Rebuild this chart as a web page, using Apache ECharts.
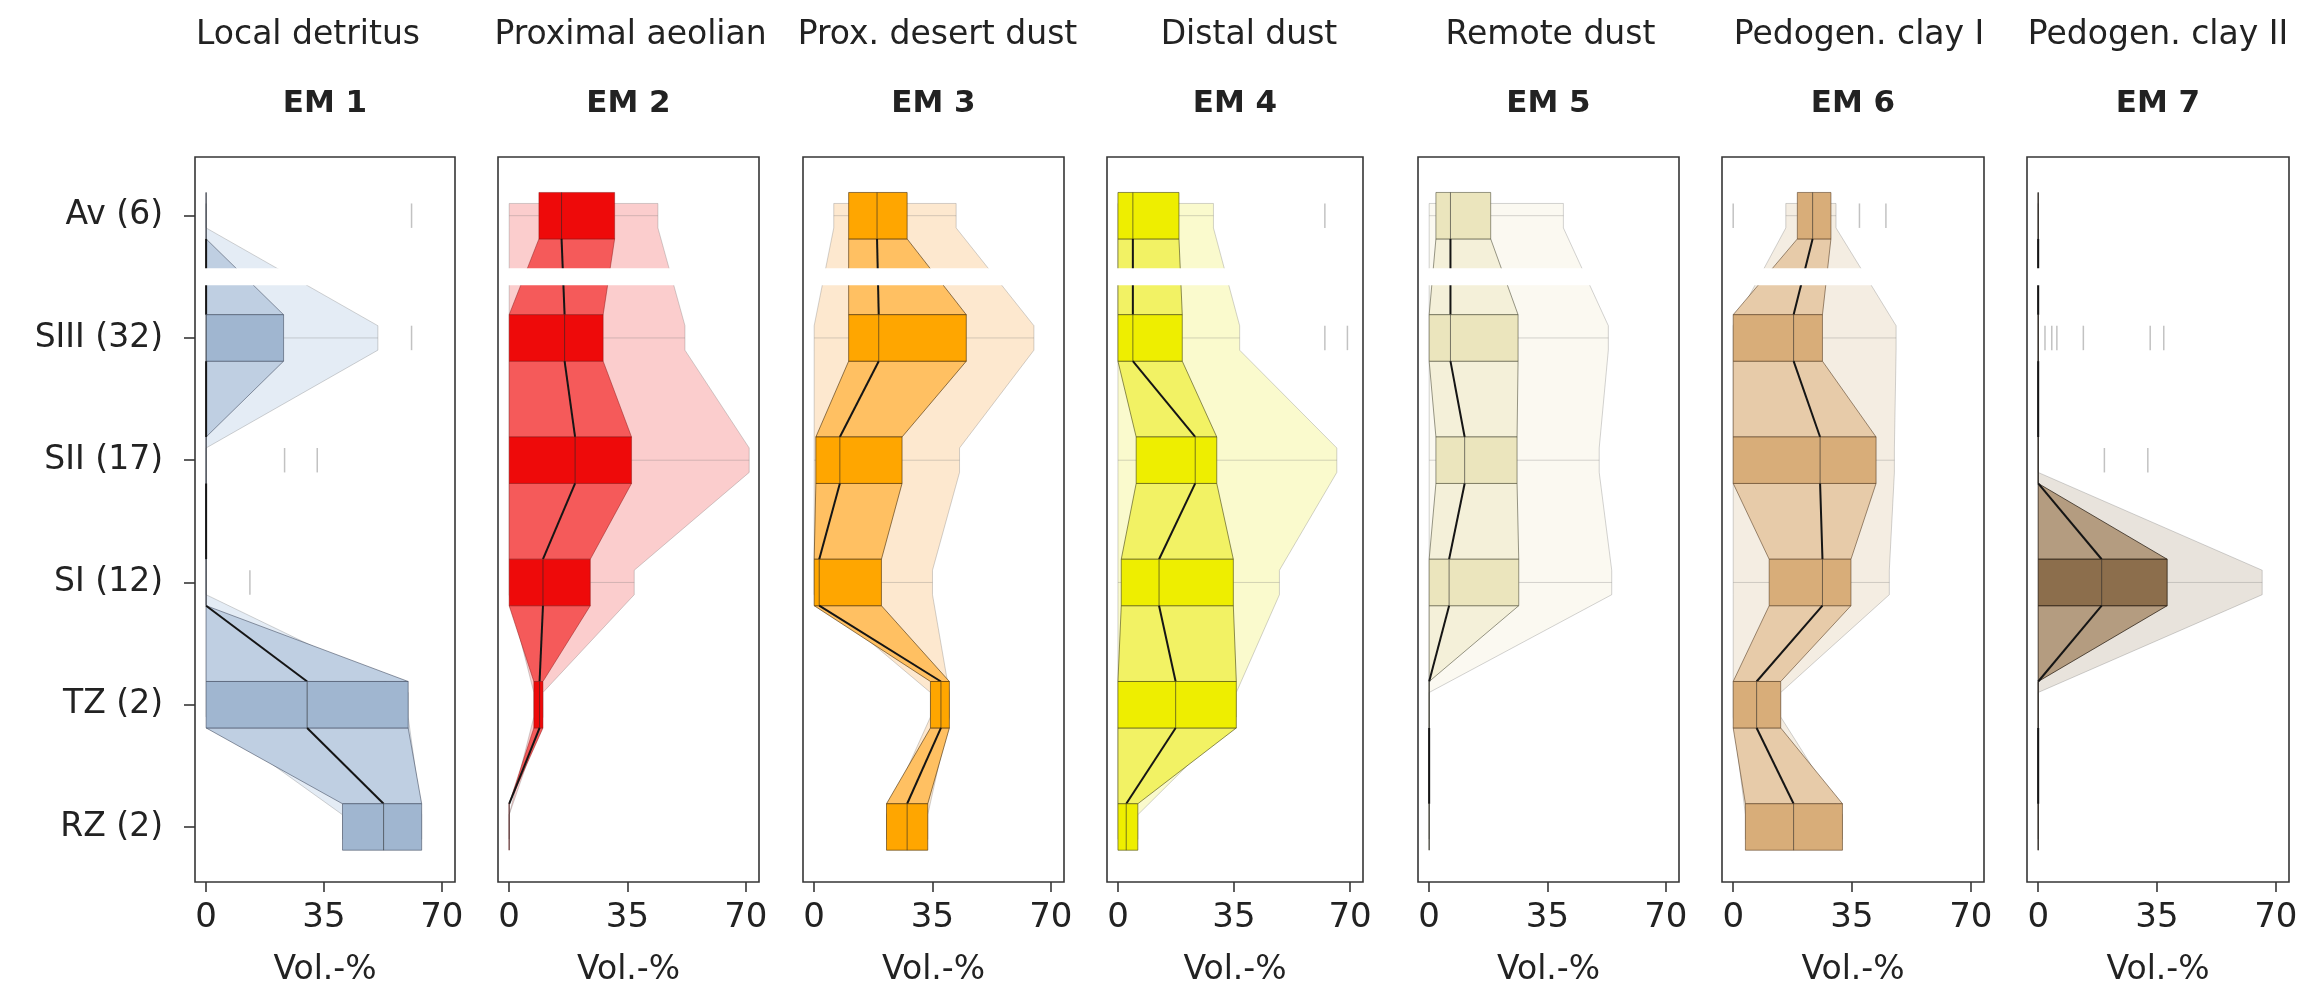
<!DOCTYPE html>
<html>
<head>
<meta charset="utf-8">
<title>End-member loadings by stratigraphic unit</title>
<script src="https://cdn.jsdelivr.net/npm/echarts@6/dist/echarts.min.js"></script>
<style>
  html, body { margin: 0; padding: 0; background: #fff; }
  #chart { width: 2306px; height: 992px; }
</style>
</head>
<body>
<div id="chart"></div>
<script>
// Stratigraphic groups (sample count in brackets), top to bottom
const groups = ['Av (6)', 'SIII (32)', 'SII (17)', 'SI (12)', 'TZ (2)', 'RZ (2)'];
const sources = ['Local detritus', 'Proximal aeolian', 'Prox. desert dust', 'Distal dust',
                 'Remote dust', 'Pedogen. clay I', 'Pedogen. clay II'];
const members = ['EM 1', 'EM 2', 'EM 3', 'EM 4', 'EM 5', 'EM 6', 'EM 7'];
const xTicks = [0, 35, 70];

// Per group: [whisker low, q1, median, q3, whisker high] in Vol.-%
const em1Stats = [[0, 0, 0, 0, 0], [0, 0, 0, 23, 51], [0, 0, 0, 0, 0], [0, 0, 0, 0, 0], [0, 0, 30, 60, 60], [40.5, 40.5, 52.7, 64, 64]];
const em2Stats = [[0, 8.8, 15.5, 31.2, 44], [0, 0, 16.4, 27.8, 52], [0, 0, 19.5, 36.2, 71], [0, 0, 10, 24, 37], [7.3, 7.3, 9, 10, 10], [0, 0, 0, 0, 0]];
const em3Stats = [[5.8, 10.2, 18.6, 27.5, 42], [0, 10.2, 19.1, 45, 65], [0, 0.5, 7.6, 26, 43], [0, 0, 1.5, 19.9, 35], [34.4, 34.4, 37.5, 40, 40], [21.4, 21.4, 27.5, 33.6, 33.6]];
const em4Stats = [[0, 0, 4.5, 18.4, 28.8], [0, 0, 4.5, 19.4, 36.7], [0, 5.5, 23.3, 29.8, 66], [0, 1, 12.4, 34.8, 48.7], [0, 0, 17.4, 35.7, 35.7], [0, 0, 2.5, 6, 6]];
const em5Stats = [[0, 2, 6.3, 18.2, 39.7], [0, 0, 6.3, 26.3, 53], [0, 2, 10.5, 26, 50.3], [0, 0, 5.9, 26.5, 54], [0, 0, 0, 0, 0], [0, 0, 0, 0, 0]];
const em6Stats = [[15.5, 18.9, 23.4, 28.8, 30.3], [0, 0, 17.8, 26.3, 48], [0, 0, 25.6, 42.1, 47.5], [0, 10.6, 26.3, 34.7, 46], [0, 0, 6.9, 14, 14], [3.6, 3.6, 17.8, 32.2, 32.2]];
const em7Stats = [[0, 0, 0, 0, 0], [0, 0, 0, 0, 0], [0, 0, 0, 0, 0], [0, 0, 18.7, 38, 66], [0, 0, 0, 0, 0], [0, 0, 0, 0, 0]];

// Outliers: [group index, Vol.-%]
const em1Outliers = [[0, 61], [1, 61], [2, 23.3], [2, 33], [3, 13]];
const em2Outliers = [];
const em3Outliers = [];
const em4Outliers = [[0, 62.4], [1, 62.4], [1, 69.2]];
const em5Outliers = [];
const em6Outliers = [[0, 0], [0, 37.2], [0, 45]];
const em7Outliers = [[1, 2], [1, 4], [1, 5.5], [1, 13.3], [1, 33], [1, 37], [2, 19.5], [2, 32.3]];

const statsAll = [em1Stats, em2Stats, em3Stats, em4Stats, em5Stats, em6Stats, em7Stats];
const outliersAll = [em1Outliers, em2Outliers, em3Outliers, em4Outliers, em5Outliers, em6Outliers, em7Outliers];

// Fill colours per end member: box, interquartile band, min-max envelope, outline
const palette = [
  { box: '#a0b6d0', band: '#bfcfe2', env: '#e4ecf5', edge: 'rgba(60,70,90,0.55)' },
  { box: '#ee0a0a', band: '#f55a5a', env: '#fbcdcd', edge: 'rgba(130,20,20,0.45)' },
  { box: '#ffa600', band: '#ffc062', env: '#fde8cf', edge: 'rgba(70,45,10,0.6)' },
  { box: '#eeee00', band: '#f2f264', env: '#fafacd', edge: 'rgba(70,70,20,0.6)' },
  { box: '#ebe5bd', band: '#f4f0d9', env: '#fbf9f1', edge: 'rgba(70,70,50,0.55)' },
  { box: '#d8ad79', band: '#e7cba9', env: '#f4ede2', edge: 'rgba(80,55,30,0.55)' },
  { box: '#8c6e4c', band: '#b49c80', env: '#e8e3dc', edge: 'rgba(30,20,10,0.7)' }
];

const FONT = '"DejaVu Sans", Verdana, sans-serif';
const TEXT = '#222';
const X_MIN = -3.3, X_MAX = 73.9, Y_MIN = -0.48, Y_MAX = 5.45;
const BOX_H = 0.19, WHISK_H = 0.1, GAP_H = 0.07;
const gridLeft = [195, 498, 803, 1107, 1418, 1722, 2027];
const gridW = [260, 261, 261, 256, 261, 262, 262];
const titleShift = [-17, 2, 4, 14, 2, 6, 0];
const gridTop = 157, gridH = 730;

function seg(api, a, b, color, width) {
  const p = api.coord(a), q = api.coord(b);
  return { type: 'line', shape: { x1: p[0], y1: p[1], x2: q[0], y2: q[1] },
           style: { stroke: color, lineWidth: width } };
}

function panelSeries(k) {
  const rows = statsAll[k].map((s, i) => [i].concat(s));
  const pal = palette[k];
  const base = { type: 'custom', xAxisIndex: k, yAxisIndex: k, silent: true, animation: false };
  return [
    Object.assign({}, base, { // min-max envelope with whiskers
      z: 2,
      data: [rows[0]],
      renderItem: (params, api) => {
        const pts = [];
        rows.forEach(r => {
          pts.push(api.coord([r[5], r[0] - WHISK_H]), api.coord([r[5], r[0] + WHISK_H]));
        });
        rows.slice().reverse().forEach(r => {
          pts.push(api.coord([r[1], r[0] + WHISK_H]), api.coord([r[1], r[0] - WHISK_H]));
        });
        const children = [{ type: 'polygon', shape: { points: pts },
          style: { fill: pal.env, stroke: 'rgba(110,110,110,0.3)', lineWidth: 1 } }];
        rows.forEach(r => {
          if (r[5] > r[4]) children.push(seg(api, [r[4], r[0]], [r[5], r[0]], 'rgba(120,120,120,0.3)', 1));
          if (r[2] > r[1]) children.push(seg(api, [r[1], r[0]], [r[2], r[0]], 'rgba(120,120,120,0.3)', 1));
        });
        return { type: 'group', children };
      }
    }),
    Object.assign({}, base, { // outliers
      z: 3,
      data: outliersAll[k],
      renderItem: (params, api) => {
        const g = api.value(0), v = api.value(1);
        return seg(api, [v, g - WHISK_H], [v, g + WHISK_H], 'rgba(120,120,120,0.45)', 1.5);
      }
    }),
    Object.assign({}, base, { // interquartile bands between neighbouring groups
      z: 4,
      data: rows.slice(0, -1),
      renderItem: (params, api) => {
        const a = rows[params.dataIndex], b = rows[params.dataIndex + 1];
        const pts = [[a[2], a[0] + BOX_H], [a[4], a[0] + BOX_H], [b[4], b[0] - BOX_H], [b[2], b[0] - BOX_H]]
          .map(p => api.coord(p));
        return { type: 'polygon', shape: { points: pts },
                 style: { fill: pal.band, stroke: pal.edge, lineWidth: 1 } };
      }
    }),
    Object.assign({}, base, { // boxes and median trace
      z: 5,
      data: rows,
      renderItem: (params, api) => {
        const g = api.value(0), q1 = api.value(2), med = api.value(3), q3 = api.value(4);
        const tl = api.coord([q1, g - BOX_H]), br = api.coord([q3, g + BOX_H]);
        const children = [
          { type: 'rect', shape: { x: tl[0], y: tl[1], width: br[0] - tl[0], height: br[1] - tl[1] },
            style: { fill: pal.box, stroke: pal.edge, lineWidth: 1 } },
          seg(api, [med, g - BOX_H], [med, g + BOX_H], 'rgba(40,40,40,0.6)', 1)
        ];
        if (g < rows.length - 1) {
          children.push(seg(api, [med, g + BOX_H], [rows[g + 1][3], g + 1 - BOX_H], '#151515', 2));
        }
        return { type: 'group', children };
      }
    }),
    Object.assign({}, base, { // break between Av and the lower units
      z: 10,
      data: [[0.5]],
      renderItem: (params, api) => {
        const y = api.value(0);
        const a = api.coord([X_MIN, y - GAP_H]), b = api.coord([X_MAX, y + GAP_H]);
        return { type: 'rect', shape: { x: a[0] + 2, y: a[1], width: b[0] - a[0] - 4, height: b[1] - a[1] },
                 style: { fill: '#ffffff' } };
      }
    })
  ];
}

const chart = echarts.init(document.getElementById('chart'), null, { renderer: 'canvas' });
const groupTicks = groups.map((g, i) => i);

const option = {
  backgroundColor: '#ffffff',
  animation: false,
  grid: members.map((m, k) => ({
    left: gridLeft[k], top: gridTop, width: gridW[k], height: gridH,
    show: true, borderColor: '#363636', borderWidth: 1.6, backgroundColor: 'transparent'
  })),
  xAxis: members.map((m, k) => ({
    gridIndex: k, type: 'value', min: X_MIN, max: X_MAX,
    axisLine: { show: false, onZero: false },
    axisTick: { show: true, customValues: xTicks, length: 10, lineStyle: { color: '#363636', width: 1.6 } },
    axisLabel: { customValues: xTicks, fontSize: 34, fontFamily: FONT, color: TEXT, margin: 19 },
    splitLine: { show: false },
    name: 'Vol.-%', nameLocation: 'middle', nameGap: 72,
    nameTextStyle: { fontSize: 33, fontFamily: FONT, color: TEXT }
  })),
  yAxis: members.map((m, k) => ({
    gridIndex: k, type: 'value', inverse: true, min: Y_MIN, max: Y_MAX,
    axisLine: { show: false, onZero: false },
    axisTick: { show: k === 0, customValues: groupTicks, length: 11, lineStyle: { color: '#363636', width: 1.6 } },
    axisLabel: { show: k === 0, customValues: groupTicks, formatter: v => groups[Math.round(v)],
                 fontSize: 33, fontFamily: FONT, color: TEXT, margin: 32 },
    splitLine: { show: false }
  })),
  graphic: sources.map((s, k) => ({
    type: 'text', x: gridLeft[k] + gridW[k] / 2 + titleShift[k], y: 35, silent: true,
    style: { text: s, font: '33px ' + FONT, fill: TEXT, textAlign: 'center', textVerticalAlign: 'middle' }
  })).concat(members.map((m, k) => ({
    type: 'text', x: gridLeft[k] + gridW[k] / 2, y: 104, silent: true,
    style: { text: m, font: 'bold 31px ' + FONT, fill: TEXT, textAlign: 'center', textVerticalAlign: 'middle' }
  }))),
  series: members.flatMap((m, k) => panelSeries(k))
};

chart.setOption(option);
</script>
</body>
</html>
